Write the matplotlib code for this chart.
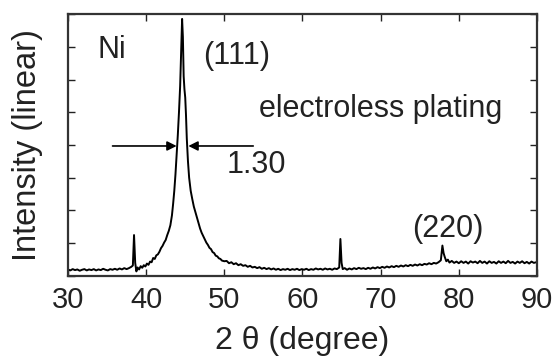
import matplotlib.pyplot as plt

plt.rcParams['font.family'] = ['Liberation Sans', 'DejaVu Sans']

# XRD pattern, values (arbitrary linear units, axis 0..8)
two_theta = [
    30.0, 30.3, 30.6, 30.9, 31.2, 31.5, 31.8, 32.1, 32.4, 32.7,
    33.0, 33.3, 33.6, 33.9, 34.2, 34.5, 34.8, 35.1, 35.4, 35.7,
    36.0, 36.3, 36.6, 36.9, 37.2, 37.5, 37.8, 38.1, 38.3, 38.45,
    38.6, 38.75, 38.9, 39.1, 39.3, 39.5, 39.7, 39.9, 40.1, 40.3,
    40.5, 40.7, 40.9, 41.1, 41.3, 41.5, 41.7, 41.9, 42.1, 42.3,
    42.5, 42.7, 42.9, 43.1, 43.3, 43.45, 43.6, 43.75, 43.9, 44.05,
    44.2, 44.35, 44.5, 44.6, 44.7, 44.8, 44.9, 45.0, 45.1, 45.2,
    45.35, 45.5, 45.7, 45.9, 46.1, 46.3, 46.5, 46.7, 46.9, 47.1,
    47.3, 47.5, 47.7, 47.9, 48.1, 48.3, 48.5, 48.7, 48.9, 49.1,
    49.3, 49.5, 49.7, 50.0, 50.3, 50.6, 50.9, 51.2, 51.5, 51.8,
    52.1, 52.4, 52.7, 53.0, 53.3, 53.6, 53.9, 54.2, 54.5, 54.8,
    55.1, 55.4, 55.7, 56.0, 56.3, 56.6, 56.9, 57.2, 57.5, 57.8,
    58.1, 58.4, 58.7, 59.0, 59.3, 59.6, 59.9, 60.2, 60.5, 60.8,
    61.1, 61.4, 61.7, 62.0, 62.3, 62.6, 62.9, 63.2, 63.5, 63.8,
    64.1, 64.4, 64.7, 64.85, 65.0, 65.15, 65.4, 65.7, 66.0, 66.3,
    66.6, 66.9, 67.2, 67.5, 67.8, 68.1, 68.4, 68.7, 69.0, 69.3,
    69.6, 69.9, 70.2, 70.5, 70.8, 71.1, 71.4, 71.7, 72.0, 72.3,
    72.6, 72.9, 73.2, 73.5, 73.8, 74.1, 74.4, 74.7, 75.0, 75.3,
    75.6, 75.9, 76.2, 76.5, 76.8, 77.1, 77.4, 77.7, 77.9, 78.05,
    78.2, 78.4, 78.6, 78.8, 79.1, 79.4, 79.7, 80.0, 80.3, 80.6,
    80.9, 81.2, 81.5, 81.8, 82.1, 82.4, 82.7, 83.0, 83.3, 83.6,
    83.9, 84.2, 84.5, 84.8, 85.1, 85.4, 85.7, 86.0, 86.3, 86.6,
    86.9, 87.2, 87.5, 87.8, 88.1, 88.4, 88.7, 89.0, 89.3, 89.6,
    89.9,
]
intensity = [
    0.20, 0.17, 0.21, 0.18, 0.20, 0.16, 0.19, 0.21, 0.17, 0.20,
    0.18, 0.21, 0.17, 0.20, 0.18, 0.22, 0.19, 0.17, 0.21, 0.19,
    0.22, 0.19, 0.23, 0.20, 0.24, 0.21, 0.24, 0.28, 0.32, 1.25,
    0.40, 0.14, 0.26, 0.20, 0.30, 0.25, 0.33, 0.29, 0.38, 0.34,
    0.44, 0.42, 0.55, 0.52, 0.63, 0.66, 0.74, 0.85, 0.92, 1.02,
    1.10, 1.25, 1.38, 1.55, 1.85, 2.2, 2.6, 3.1, 3.7, 4.3,
    5.0, 5.8, 7.0, 7.85, 7.3, 6.1, 5.7, 5.45, 4.9, 4.2,
    3.5, 3.0, 2.6, 2.35, 2.12, 1.95, 1.78, 1.60, 1.45, 1.32,
    1.22, 1.12, 1.02, 0.95, 0.86, 0.82, 0.73, 0.70, 0.62, 0.60,
    0.54, 0.52, 0.47, 0.45, 0.46, 0.39, 0.42, 0.36, 0.39, 0.33,
    0.36, 0.31, 0.33, 0.28, 0.31, 0.26, 0.28, 0.24, 0.27, 0.22,
    0.25, 0.21, 0.24, 0.20, 0.23, 0.19, 0.22, 0.18, 0.21, 0.19,
    0.22, 0.18, 0.21, 0.19, 0.22, 0.18, 0.21, 0.19, 0.22, 0.18,
    0.21, 0.19, 0.23, 0.20, 0.22, 0.19, 0.23, 0.20, 0.22, 0.19,
    0.23, 0.21, 0.26, 1.13, 0.40, 0.21, 0.24, 0.19, 0.23, 0.20,
    0.24, 0.21, 0.25, 0.22, 0.24, 0.21, 0.25, 0.22, 0.26, 0.23,
    0.27, 0.24, 0.28, 0.25, 0.29, 0.26, 0.30, 0.27, 0.31, 0.28,
    0.32, 0.29, 0.33, 0.30, 0.34, 0.31, 0.35, 0.32, 0.36, 0.33,
    0.37, 0.35, 0.39, 0.36, 0.40, 0.38, 0.42, 0.48, 0.93, 0.70,
    0.58, 0.45, 0.50, 0.41, 0.46, 0.40, 0.44, 0.39, 0.45, 0.40,
    0.44, 0.38, 0.45, 0.41, 0.44, 0.39, 0.46, 0.40, 0.44, 0.38,
    0.45, 0.40, 0.43, 0.38, 0.45, 0.40, 0.44, 0.39, 0.46, 0.40,
    0.43, 0.38, 0.44, 0.40, 0.45, 0.39, 0.43, 0.38, 0.44, 0.40,
    0.42,
]

x_ticks = [30, 40, 50, 60, 70, 80, 90]
y_ticks = [0, 1, 2, 3, 4, 5, 6, 7, 8]

# FWHM marker of the (111) peak
fwhm_y = 3.97
fwhm_left = (35.7, 43.9)
fwhm_right = (53.7, 45.4)

fig = plt.figure(figsize=(5.54, 3.63), dpi=100)
ax = fig.add_axes([0.1227, 0.2397, 0.8466, 0.7217])

ax.plot(two_theta, intensity, color='black', lw=1.4)

ax.set_xlim(30, 90)
ax.set_ylim(0, 8)
ax.set_xticks(x_ticks)
ax.set_yticks(y_ticks)
ax.set_yticklabels([])
ax.tick_params(direction='in', top=True, right=True, length=5, width=1,
               labelsize=21, pad=7, colors='#222222')

for s in ax.spines.values():
    s.set_linewidth(1.6)
    s.set_color('#333333')

ax.set_xlabel('2 θ (degree)', fontsize=23, color='#222222', labelpad=9)
ax.set_ylabel('Intensity (linear)', fontsize=23.5, color='#222222', labelpad=11)

txt = dict(fontsize=22, color='#222222')
ax.text(33.8, 6.66, 'Ni', **txt)
ax.text(47.3, 6.47, '(111)', **txt)
ax.text(54.5, 4.85, 'electroless plating', **txt)
ax.text(50.3, 3.15, '1.30', **txt)
ax.text(74.0, 1.19, '(220)', **txt)

arrow = dict(arrowstyle='-|>', color='black', lw=1.2,
             mutation_scale=14, shrinkA=0, shrinkB=0)
ax.annotate('', xy=(fwhm_left[1], fwhm_y), xytext=(fwhm_left[0], fwhm_y),
            arrowprops=arrow)
ax.annotate('', xy=(fwhm_right[1], fwhm_y), xytext=(fwhm_right[0], fwhm_y),
            arrowprops=arrow)

fig.savefig('out.png', dpi=100)
